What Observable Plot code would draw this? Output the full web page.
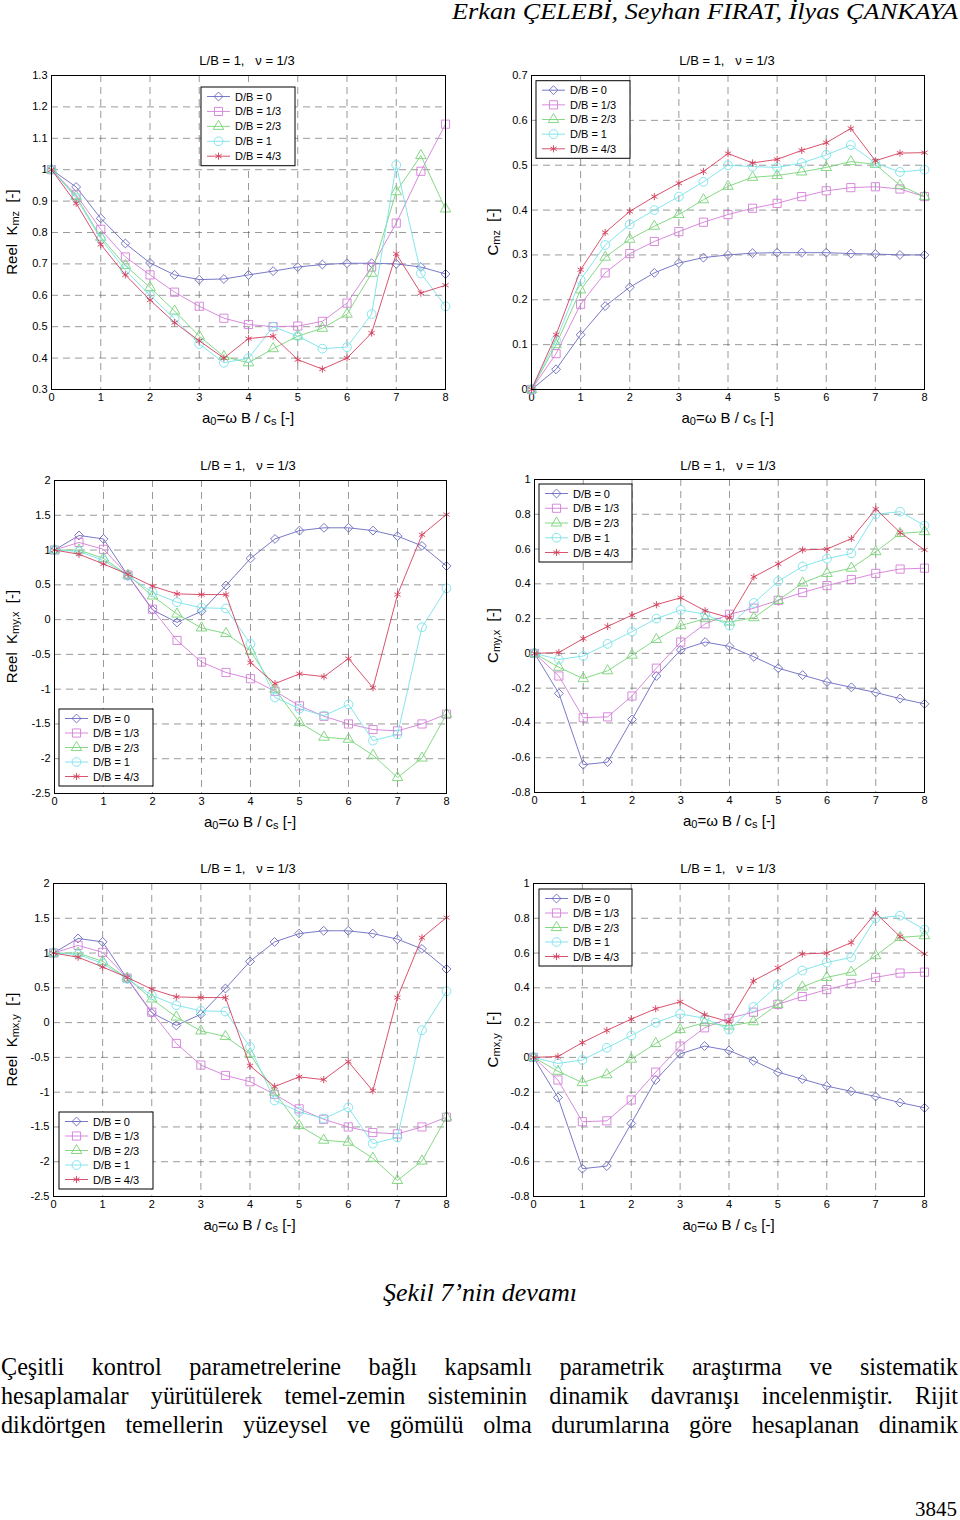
<!DOCTYPE html>
<html><head><meta charset="utf-8">
<script src="https://cdn.jsdelivr.net/npm/d3@7"></script>
<script src="https://cdn.jsdelivr.net/npm/@observablehq/plot@0.6"></script>
<style>
body{margin:0;background:#fff;}
#page{position:relative;width:960px;height:1520px;overflow:hidden;background:#fff;}
.panel{position:absolute;}
.serif{font-family:"Liberation Serif","Times New Roman",serif;color:#000;position:absolute;white-space:pre;line-height:1.107;transform-origin:0 0;}
</style></head><body><div id="page">
<div id="header" class="serif" style="font-style:italic;font-size:23px;">Erkan ÇELEBİ, Seyhan FIRAT, İlyas ÇANKAYA</div>
<div id="caption" class="serif" style="font-style:italic;font-size:26px;">Şekil 7’nin devamı</div>
<div id="l1" class="serif para" style="font-size:26px;">Çeşitli kontrol parametrelerine bağlı kapsamlı parametrik araştırma ve sistematik</div>
<div id="l2" class="serif para" style="font-size:26px;">hesaplamalar yürütülerek temel-zemin sisteminin dinamik davranışı incelenmiştir. Rijit</div>
<div id="l3" class="serif para" style="font-size:26px;">dikdörtgen temellerin yüzeysel ve gömülü olma durumlarına göre hesaplanan dinamik</div>
<div id="pageno" class="serif" style="font-size:21px;">3845</div>
</div>
<script>
// ---------------- data ----------------
const a0 = [0,0.5,1,1.5,2,2.5,3,3.5,4,4.5,5,5.5,6,6.5,7,7.5,8];
const seriesLabels = ["D/B = 0","D/B = 1/3","D/B = 2/3","D/B = 1","D/B = 4/3"];
const xTicks = [0,1,2,3,4,5,6,7,8];
const panelTitle = "L/B = 1,   \u03bd = 1/3";

// Reel K_mz
const kmz_DB0  = [1.0,0.945,0.845,0.765,0.703,0.665,0.650,0.652,0.665,0.677,0.690,0.698,0.702,0.702,0.700,0.690,0.668];
const kmz_DB13 = [1.0,0.920,0.810,0.722,0.665,0.610,0.565,0.527,0.507,0.500,0.502,0.517,0.575,0.690,0.830,0.995,1.145];
const kmz_DB23 = [1.0,0.915,0.785,0.695,0.625,0.550,0.470,0.405,0.385,0.430,0.470,0.495,0.540,0.670,0.930,1.045,0.875];
const kmz_DB1  = [1.0,0.910,0.780,0.680,0.600,0.525,0.445,0.385,0.400,0.500,0.470,0.430,0.435,0.540,1.015,0.670,0.565];
const kmz_DB43 = [1.0,0.893,0.762,0.665,0.585,0.513,0.455,0.400,0.462,0.470,0.395,0.365,0.400,0.480,0.732,0.607,0.632];
const kmzTicks = [0.3,0.4,0.5,0.6,0.7,0.8,0.9,1.0,1.1,1.2,1.3];

// C_mz
const cmz_DB0  = [0,0.045,0.122,0.186,0.228,0.260,0.282,0.294,0.300,0.304,0.305,0.305,0.305,0.303,0.302,0.300,0.300];
const cmz_DB13 = [0,0.080,0.190,0.260,0.303,0.330,0.352,0.373,0.390,0.404,0.415,0.430,0.443,0.450,0.452,0.447,0.430];
const cmz_DB23 = [0,0.100,0.222,0.295,0.335,0.364,0.390,0.423,0.453,0.473,0.477,0.485,0.495,0.508,0.502,0.455,0.430];
const cmz_DB1  = [0,0.110,0.245,0.322,0.368,0.400,0.430,0.463,0.500,0.497,0.495,0.505,0.523,0.545,0.505,0.485,0.490];
const cmz_DB43 = [0,0.122,0.267,0.350,0.397,0.430,0.460,0.486,0.526,0.505,0.513,0.533,0.550,0.582,0.510,0.527,0.528];
const cmzTicks = [0,0.1,0.2,0.3,0.4,0.5,0.6,0.7];

// Reel K_my,x (identical values shown for K_mx,y)
const kmyx_DB0  = [1.0,1.21,1.16,0.63,0.14,-0.04,0.12,0.49,0.88,1.16,1.28,1.32,1.32,1.28,1.20,1.06,0.77];
const kmyx_DB13 = [1.0,1.11,1.01,0.64,0.15,-0.30,-0.61,-0.76,-0.85,-1.03,-1.24,-1.39,-1.50,-1.58,-1.60,-1.50,-1.36];
const kmyx_DB23 = [1.0,1.00,0.88,0.64,0.34,0.08,-0.12,-0.20,-0.45,-1.00,-1.48,-1.69,-1.72,-1.95,-2.27,-1.99,-1.36];
const kmyx_DB1  = [1.0,0.98,0.85,0.63,0.39,0.25,0.17,0.16,-0.35,-1.12,-1.28,-1.38,-1.22,-1.74,-1.65,-0.11,0.45];
const kmyx_DB43 = [1.0,0.94,0.80,0.65,0.48,0.37,0.36,0.36,-0.62,-0.92,-0.78,-0.82,-0.56,-0.98,0.36,1.22,1.51];
const kmyxTicks = [-2.5,-2,-1.5,-1,-0.5,0,0.5,1,1.5,2];

// C_my,x (identical values shown for C_mx,y)
const cmyx_DB0  = [0,-0.230,-0.640,-0.625,-0.380,-0.130,0.020,0.065,0.040,-0.020,-0.085,-0.125,-0.165,-0.195,-0.225,-0.260,-0.290];
const cmyx_DB13 = [0,-0.130,-0.370,-0.365,-0.245,-0.085,0.065,0.170,0.225,0.260,0.305,0.350,0.390,0.425,0.460,0.485,0.490];
const cmyx_DB23 = [0,-0.080,-0.145,-0.100,-0.010,0.080,0.160,0.200,0.180,0.205,0.305,0.405,0.460,0.490,0.585,0.690,0.700];
const cmyx_DB1  = [0,-0.035,-0.015,0.055,0.125,0.200,0.250,0.225,0.160,0.290,0.415,0.500,0.545,0.575,0.800,0.815,0.735];
const cmyx_DB43 = [0,0.005,0.085,0.155,0.220,0.280,0.320,0.245,0.205,0.440,0.515,0.595,0.600,0.660,0.830,0.695,0.595];
const cmyxTicks = [-0.8,-0.6,-0.4,-0.2,0,0.2,0.4,0.6,0.8,1.0];

// ---------------- styling ----------------
const colors  = ["#6a6ac0","#d47ed8","#78d478","#78e2ea","#d4405c"];
const symbols = ["diamond2","square","triangle","circle","asterisk"];
const radii   = [4.0,4.6,3.9,4.4,3.4];
const d3sym = {diamond2:d3.symbolDiamond2, square:d3.symbolSquare, triangle:d3.symbolTriangle, circle:d3.symbolCircle, asterisk:d3.symbolAsterisk};
const sans = "'Liberation Sans', Arial, Helvetica, sans-serif";
const fmt = d => String(Math.round(d*100)/100);

const panels = [
  {L:0,   T:45,  W:470, H:395, frame:[51,75,445,389],   y:[0.3,1.3], ticks:kmzTicks,
   data:[kmz_DB0,kmz_DB13,kmz_DB23,kmz_DB1,kmz_DB43], yl:["Reel  K","mz","  [-]"], ylx:11,
   title:[247,60], legend:[201,87,295,165.7]},
  {L:478, T:45,  W:482, H:395, frame:[531,75,924,389],  y:[0,0.7], ticks:cmzTicks,
   data:[cmz_DB0,cmz_DB13,cmz_DB23,cmz_DB1,cmz_DB43], yl:["C","mz","  [-]"], ylx:492,
   title:[727,60], legend:[536,80.7,630,158.3]},
  {L:0,   T:450, W:470, H:395, frame:[54,480,446,793],  y:[-2.5,2], ticks:kmyxTicks,
   data:[kmyx_DB0,kmyx_DB13,kmyx_DB23,kmyx_DB1,kmyx_DB43], yl:["Reel  K","my,x","  [-]"], ylx:11,
   title:[248,465.5], legend:[59,709,153,786]},
  {L:478, T:450, W:482, H:395, frame:[534,479,924,792], y:[-0.8,1], ticks:cmyxTicks,
   data:[cmyx_DB0,cmyx_DB13,cmyx_DB23,cmyx_DB1,cmyx_DB43], yl:["C","my,x","  [-]"], ylx:492,
   title:[728,465], legend:[539,484,632,562]},
  {L:0,   T:853, W:470, H:395, frame:[53,883,446,1196], y:[-2.5,2], ticks:kmyxTicks,
   data:[kmyx_DB0,kmyx_DB13,kmyx_DB23,kmyx_DB1,kmyx_DB43], yl:["Reel  K","mx,y","  [-]"], ylx:11,
   title:[248,868], legend:[59,1112,153,1189]},
  {L:478, T:853, W:482, H:395, frame:[533,883,924,1196], y:[-0.8,1], ticks:cmyxTicks,
   data:[cmyx_DB0,cmyx_DB13,cmyx_DB23,cmyx_DB1,cmyx_DB43], yl:["C","mx,y","  [-]"], ylx:492,
   title:[728,868], legend:[539,889,632,966]}
];

const page = document.getElementById("page");

for (const p of panels) {
  const [fx0,fy0,fx1,fy1] = p.frame;
  const marks = [
    Plot.gridX(xTicks, {stroke:"#555", strokeOpacity:0.75, strokeWidth:0.8, strokeDasharray:"7,5"}),
    Plot.gridY(p.ticks, {stroke:"#555", strokeOpacity:0.75, strokeWidth:0.8, strokeDasharray:"7,5"}),
    Plot.axisX({ticks:xTicks, tickSize:0, tickPadding:4, label:null, tickFormat:fmt, fontSize:11}),
    Plot.axisY({ticks:p.ticks, tickSize:0, tickPadding:4, label:null, tickFormat:fmt, fontSize:11})
  ];
  p.data.forEach((vals,i) => {
    const rows = vals.map((v,j) => ({x:a0[j], y:v, s:seriesLabels[i]}));
    marks.push(Plot.line(rows, {x:"x", y:"y", stroke:colors[i], strokeWidth:0.9}));
    marks.push(Plot.dot(rows, {x:"x", y:"y", stroke:colors[i], fill:"none", symbol:symbols[i], r:radii[i], strokeWidth:0.9}));
  });
  marks.push(Plot.frame({stroke:"#000", strokeWidth:1}));

  const svg = Plot.plot({
    width:p.W, height:p.H,
    marginLeft:fx0-p.L, marginRight:p.L+p.W-fx1, marginTop:fy0-p.T, marginBottom:p.T+p.H-fy1,
    x:{domain:[0,8]}, y:{domain:p.y},
    style:{fontFamily:sans, fontSize:"11px", color:"#000", background:"transparent", overflow:"visible"},
    marks
  });
  const div = document.createElement("div");
  div.className = "panel";
  div.style.left = p.L + "px"; div.style.top = p.T + "px";
  div.appendChild(svg);
  page.appendChild(div);

  const s = d3.select(svg);
  const ox = p.L, oy = p.T;
  // title
  s.append("text").attr("x", p.title[0]-ox).attr("y", p.title[1]-oy)
    .attr("text-anchor","middle").attr("dominant-baseline","central")
    .style("white-space","pre").attr("font-family",sans).attr("font-size",13).attr("fill","#000")
    .text(panelTitle);
  // x label
  const xl = s.append("text").attr("x", (fx0+fx1)/2-ox).attr("y", fy1+28-oy)
    .attr("text-anchor","middle").attr("dominant-baseline","central")
    .style("white-space","pre").attr("font-family",sans).attr("font-size",15).attr("fill","#000");
  xl.append("tspan").text("a");
  xl.append("tspan").attr("font-size",11).attr("dy",4).text("0");
  xl.append("tspan").attr("dy",-4).text("=\u03c9 B / c");
  xl.append("tspan").attr("font-size",11).attr("dy",4).text("s");
  xl.append("tspan").attr("dy",-4).text(" [-]");
  // y label
  const yc = (fy0+fy1)/2 - oy;
  const yl = s.append("text").attr("transform",`translate(${p.ylx-ox},${yc}) rotate(-90)`)
    .attr("text-anchor","middle").attr("dominant-baseline","central")
    .style("white-space","pre").attr("font-family",sans).attr("font-size",15).attr("fill","#000");
  yl.append("tspan").text(p.yl[0]);
  yl.append("tspan").attr("font-size",11).attr("dy",4).text(p.yl[1]);
  yl.append("tspan").attr("dy",-4).text(p.yl[2]);
  // legend
  const [lx0,ly0,lx1,ly1] = p.legend;
  const lg = s.append("g").attr("transform",`translate(${lx0-ox},${ly0-oy})`);
  lg.append("rect").attr("x",0).attr("y",0).attr("width",lx1-lx0).attr("height",ly1-ly0)
    .attr("fill","#fff").attr("stroke","#000").attr("stroke-width",1);
  const sp = (ly1-ly0-19)/4;
  seriesLabels.forEach((lab,i) => {
    const yy = 9.5 + i*sp;
    lg.append("line").attr("x1",6).attr("x2",29).attr("y1",yy).attr("y2",yy)
      .attr("stroke",colors[i]).attr("stroke-width",0.9);
    lg.append("path").attr("transform",`translate(17.5,${yy})`)
      .attr("d", d3.symbol(d3sym[symbols[i]], radii[i]*radii[i]*Math.PI)())
      .attr("fill","none").attr("stroke",colors[i]).attr("stroke-width",0.9);
    lg.append("text").attr("x",34).attr("y",yy).attr("dominant-baseline","central")
      .attr("text-anchor","start")
      .attr("font-family",sans).attr("font-size",11).attr("fill","#000").text(lab);
  });
}

// ---------------- page text ----------------
function place(id, baseline, opts) {
  const el = document.getElementById(id);
  const size = parseFloat(el.style.fontSize);
  el.style.top = (baseline - 0.891*size) + "px";
  const w = el.getBoundingClientRect().width;
  const ww = opts.width || w;
  if (opts.width) el.style.transform = `scaleX(${opts.width / w})`;
  if (opts.right != null) el.style.left = (opts.right - ww) + "px";
  else if (opts.center != null) el.style.left = (opts.center - ww/2) + "px";
  else el.style.left = opts.left + "px";
}
function justify(id, baseline, left, width, k) {
  const el = document.getElementById(id);
  const size = parseFloat(el.style.fontSize);
  el.style.top = (baseline - 0.891*size) + "px";
  el.style.left = left + "px";
  const w = el.getBoundingClientRect().width;
  const gaps = (el.textContent.match(/ /g) || []).length;
  el.style.wordSpacing = ((width/k - w)/gaps) + "px";
  el.style.transform = `scaleX(${k})`;
}
place("header", 19.5, {right:958, width:506});
place("caption", 1302, {center:480, width:194});
justify("l1", 1376, 1, 957, 0.93);
justify("l2", 1405, 1, 957, 0.93);
justify("l3", 1434, 1, 957, 0.93);
place("pageno", 1516.5, {right:957});
</script>
</body></html>
